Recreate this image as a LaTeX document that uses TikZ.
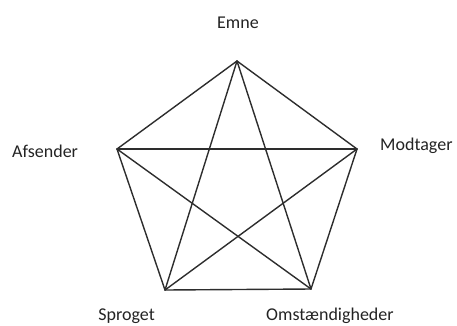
\documentclass[tikz,border=0pt]{standalone}
\usepackage{fontspec}
\setmainfont{Carlito}
\usetikzlibrary{positioning}
\definecolor{kantC}{RGB}{45,45,45}
\definecolor{tekstC}{RGB}{35,35,35}
\tikzset{
  hjoerne/.style={coordinate},
  etiket/.style={inner sep=0pt, text=tekstC, font=\fontsize{18}{20}\selectfont},
  kant/.style={line width=1.4pt, draw=kantC, line cap=round},
}
\begin{document}
\begin{tikzpicture}[x=1pt,y=-1pt]
        \useasboundingbox (0,0) rectangle (457,325);
        % hjoerner i femkanten
        \node[hjoerne] (emne) at (237,61) {};
        \node[hjoerne] (afs) at (117,149) {};
        \node[hjoerne] (modt) at (357,149) {};
        \node[hjoerne] (spr) at (165,290) {};
        \node[hjoerne] (omst) at (311,289) {};
        % tekster
        \node[etiket, anchor=base west] (emneT) at (217,28) {Emne};
        \node[etiket, anchor=base west] (afsT) at (12,157) {Afsender};
        \node[etiket, anchor=base west] (modtT) at (380,150) {Modtager};
        \node[etiket, anchor=base east] (sprT) at (155,320) {Sproget};
        \node[etiket, anchor=base west] (omstT) at (266,320) {Omstændigheder};
        % kanter
        \draw[kant] (emne) -- (afs); \draw[kant] (emne) -- (modt);
        \draw[kant] (emne) -- (spr); \draw[kant] (emne) -- (omst);
        \draw[kant] (afs) -- (modt); \draw[kant] (afs) -- (spr);
        \draw[kant] (afs) -- (omst); \draw[kant] (modt) -- (spr);
        \draw[kant] (modt) -- (omst); \draw[kant] (spr) -- (omst);
      \end{tikzpicture}
\end{document}
